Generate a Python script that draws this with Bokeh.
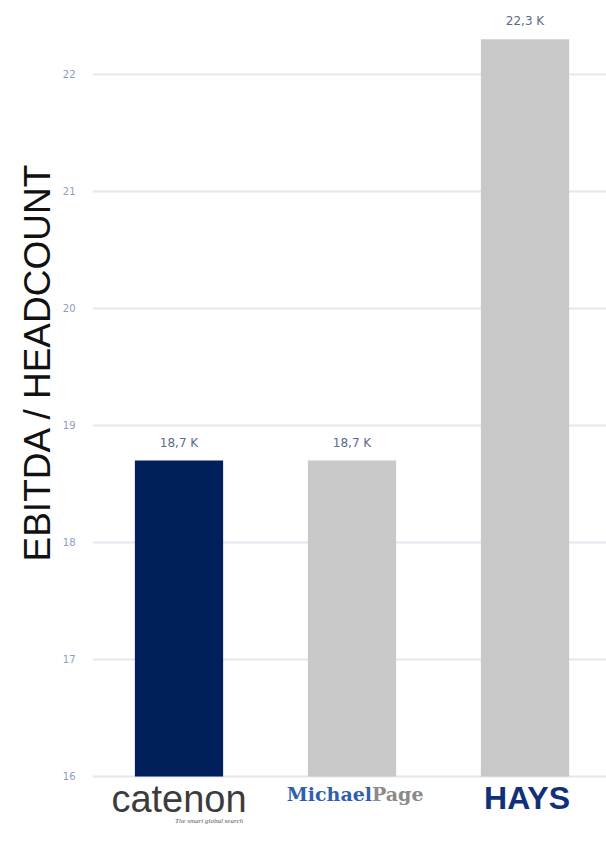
from bokeh.plotting import figure
from bokeh.models import Range1d, FixedTicker, Title, ColumnDataSource
from bokeh.core.properties import value
from bokeh.embed import file_html
from bokeh.resources import INLINE

companies = ["Catenon", "Michael Page", "Hays"]
ebitda_per_head = [18.7, 18.7, 22.3]
bar_colors = ["#001f5b", "#c8c8c8", "#c8c8c8"]
y_ticks = [16, 17, 18, 19, 20, 21, 22]
axis_title = "EBITDA / HEADCOUNT"
baseline = 16
catenon_logo = ["catenon", "The smart global search"]
michael_page_logo = ["Michael", "Page"]
hays_logo = ["HAYS"]

xs = [i + 0.5 for i in range(len(companies))]
labels = [f"{v:.1f} K".replace(".", ",") for v in ebitda_per_head]

src = ColumnDataSource(dict(x=xs, top=ebitda_per_head, color=bar_colors, label=labels))

p = figure(width=606, height=841, output_backend="svg", toolbar_location=None,
           x_range=Range1d(0, 2.971), y_range=Range1d(15.444, 22.632),
           x_axis_location=None,
           min_border_left=92, min_border_right=0, min_border_top=0, min_border_bottom=0)
p.outline_line_color = None
p.background_fill_color = "white"
p.border_fill_color = "white"
p.xgrid.grid_line_color = None

yaxis = p.yaxis[0]
yaxis.ticker = FixedTicker(ticks=y_ticks)
yaxis.axis_line_color = None
yaxis.major_tick_line_color = None
yaxis.minor_tick_line_color = None
yaxis.major_label_text_font_size = "10px"
yaxis.major_label_text_color = "#8e9cc2"
yaxis.major_label_text_font = "DejaVu Sans"
yaxis.major_label_standoff = 11
p.ygrid.grid_line_color = "#e3e7f0"
p.ygrid.grid_line_width = 2

p.add_layout(Title(text=axis_title, text_font_size="37px", text_font="Liberation Sans",
                   text_font_style="normal", text_color="#111111", align="left",
                   offset=280, standoff=4), "left")

p.vbar(x="x", top="top", bottom=baseline, width=0.51, fill_color="color",
       line_color=None, source=src)

p.text(x="x", y="top", text="label", source=src, text_align="center",
       text_baseline="alphabetic", y_offset=-18, text_font_size="12px",
       text_color="#5d6a8c", text_font=value("DejaVu Sans"))

# logos under the bars
p.text(x=[xs[0]], y=[baseline], text=[catenon_logo[0]], text_align="center",
       text_baseline="alphabetic", y_offset=23, text_font_size="38px",
       text_color="#3c3c3c", text_font=value("Liberation Sans"))
p.text(x=[xs[0]], y=[baseline], text=[catenon_logo[1]], text_align="right",
       text_baseline="alphabetic", x_offset=64, y_offset=45, text_font_size="7px",
       text_font_style="italic", text_color="#555555", text_font=value("Liberation Serif"))
p.text(x=[xs[1]], y=[baseline], text=[michael_page_logo[0]], text_align="right",
       text_baseline="alphabetic", x_offset=20, y_offset=18, text_font_size="19px",
       text_font_style="bold", text_color="#2f5fae", text_font=value("DejaVu Serif"))
p.text(x=[xs[1]], y=[baseline], text=[michael_page_logo[1]], text_align="left",
       text_baseline="alphabetic", x_offset=20, y_offset=18, text_font_size="19px",
       text_font_style="bold", text_color="#8a8a8a", text_font=value("DejaVu Serif"))
p.text(x=[xs[2]], y=[baseline], text=[hays_logo[0]], text_align="center",
       text_baseline="alphabetic", x_offset=2, y_offset=22, text_font_size="32px",
       text_font_style="bold", text_color="#12307a", text_font=value("Liberation Sans"))

open("out.html", "w").write(file_html(p, INLINE))
